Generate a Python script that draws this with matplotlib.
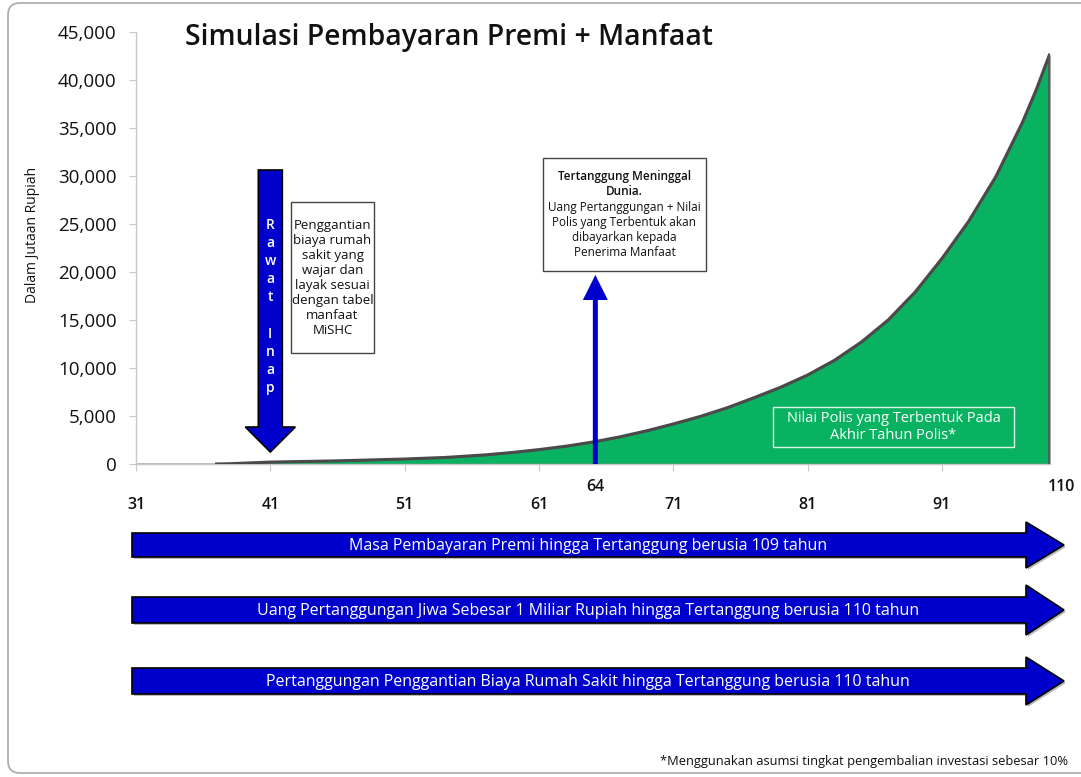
import matplotlib
matplotlib.use('Agg')
import matplotlib.pyplot as plt
from matplotlib.patches import Polygon, Rectangle, FancyBboxPatch
from matplotlib.ticker import FuncFormatter

plt.rcParams['font.family'] = ['Open Sans', 'DejaVu Sans']

# policy year index (0 = age 31) and policy value (million Rupiah)
tahun_ke = [0, 6, 7, 10, 15, 20, 23, 26, 28, 30, 32, 34, 36, 38, 40, 42, 44, 46, 48,
            50, 52, 54, 56, 58, 60, 62, 64, 66, 67, 68]
nilai_polis = [0, 0, 30, 200, 330, 520, 680, 950, 1200, 1500, 1850, 2290, 2820, 3450, 4170,
               4950, 5850, 6900, 8000, 9270, 10800, 12700, 15000, 17900, 21400, 25300,
               29900, 35600, 38900, 42600]

tick_pos = [0, 10, 20, 30, 40, 50, 60]
tick_usia = ['31', '41', '51', '61', '71', '81', '91']
y_ticks = [0, 5000, 10000, 15000, 20000, 25000, 30000, 35000, 40000, 45000]

pos_rawat_inap = 10
pos_meninggal = 34.2
pos_akhir = 68.9
label_meninggal = '64'
label_akhir = '110'

bar_texts = [
    'Masa Pembayaran Premi hingga Tertanggung berusia 109 tahun',
    'Uang Pertanggungan Jiwa Sebesar 1 Miliar Rupiah hingga Tertanggung berusia 110 tahun',
    'Pertanggungan Penggantian Biaya Rumah Sakit hingga Tertanggung berusia 110 tahun',
]

blue = '#0000CC'
green = '#08B261'
axis_gray = '#C8C8C8'

W, H = 1081, 777
fig = plt.figure(figsize=(W / 100, H / 100), dpi=100)
ax = fig.add_axes([136 / W, 1 - 464 / H, (1050 - 136) / W, (464 - 32) / H], zorder=1)

ax.fill_between(tahun_ke, nilai_polis, 0, color=green, edgecolor='#555555', lw=1, zorder=2)
ax.plot(tahun_ke[1:], nilai_polis[1:], color='#4A4A4A', lw=2.2, zorder=3,
        solid_joinstyle='round')
ax.plot([tahun_ke[-1], tahun_ke[-1]], [0, nilai_polis[-1]], color='#555555', lw=1.2, zorder=3)

ax.set_xlim(0, 68.05)
ax.set_ylim(0, 45000)
ax.set_xticks(tick_pos)
ax.set_xticklabels(tick_usia)
ax.set_yticks(y_ticks)
ax.yaxis.set_major_formatter(FuncFormatter(lambda v, p: f'{int(v):,}'))
for s in ['top', 'right']:
    ax.spines[s].set_visible(False)
for s in ['left', 'bottom']:
    ax.spines[s].set_color(axis_gray)
    ax.spines[s].set_linewidth(1)
ax.tick_params(axis='y', length=5, color=axis_gray, labelsize=13.5, pad=9, labelcolor='#111111')
ax.tick_params(axis='x', length=5, color=axis_gray, labelsize=11.5, pad=19, labelcolor='#111111')
for t in ax.get_xticklabels():
    t.set_fontweight('semibold')
ax.patch.set_alpha(0)

fig.canvas.draw()


def to_px(x, y):
    dx, dy = ax.transData.transform((x, y))
    return dx, H - dy


# overlay in pixel units (y downwards)
ov = fig.add_axes([0, 0, 1, 1], zorder=2)
ov.set_xlim(0, W)
ov.set_ylim(H, 0)
ov.axis('off')
ov.patch.set_alpha(0)

# outer rounded frame
ov.add_patch(FancyBboxPatch((8, 3), 1140, 770, boxstyle='round,pad=0,rounding_size=12',
                            fc='none', ec='#A8A8A8', lw=1.2))

# title and axis label
ov.text(185, 37, 'Simulasi Pembayaran Premi + Manfaat', fontsize=20.3, fontweight='semibold',
        ha='left', va='center', color='#111111')
ov.text(33, 235, 'Dalam Jutaan Rupiah', fontsize=10, rotation=90, ha='center', va='center',
        color='#111111')

# down arrow "Rawat Inap"
cx = to_px(pos_rawat_inap, 0)[0]
top, base, tip = 170, 427, 452
arrow_pts = [(cx - 12, top), (cx + 12, top), (cx + 12, base), (cx + 25, base), (cx, tip),
             (cx - 25, base), (cx - 12, base)]
ov.add_patch(Polygon(arrow_pts, closed=True, fc=blue, ec='black', lw=1.2))
for k, ch in enumerate('Rawat Inap'):
    ov.text(cx, 225 + k * 18.1, ch, color='white', fontsize=10, fontweight='semibold',
            ha='center', va='center')

ov.add_patch(Rectangle((291, 202), 83, 151, fc='white', ec='#444444', lw=1))
ov.text(332.5, 278, 'Penggantian\nbiaya rumah\nsakit yang\nwajar dan\nlayak sesuai\ndengan tabel\nmanfaat\nMiSHC',
        fontsize=9.5, ha='center', va='center', linespacing=1.2, color='#111111')

# up arrow (death benefit)
ux, uy0 = to_px(pos_meninggal, 0)
ov.add_patch(Polygon([(ux - 2.5, uy0), (ux - 2.5, 300), (ux - 12.5, 300), (ux, 275),
                      (ux + 12.5, 300), (ux + 2.5, 300), (ux + 2.5, uy0)],
                     closed=True, fc=blue, ec='none'))
ov.add_patch(Rectangle((543, 158), 163, 113, fc='white', ec='#444444', lw=1))
ov.text(624.5, 184, 'Tertanggung Meninggal\nDunia.', fontsize=8.5, fontweight='semibold',
        ha='center', va='center', linespacing=1.2, color='#111111')
ov.text(624.5, 230, 'Uang Pertanggungan + Nilai\nPolis yang Terbentuk akan\ndibayarkan kepada\nPenerima Manfaat',
        fontsize=8.5, ha='center', va='center', linespacing=1.2, color='#111111')

# label inside the green area
ov.add_patch(Rectangle((773, 407), 241, 40, fc='none', ec='#DDF5E6', lw=1))
ov.text(893.5, 427, 'Nilai Polis yang Terbentuk Pada\nAkhir Tahun Polis*', color='white',
        fontsize=10.5, ha='center', va='center', linespacing=1.15)

# extra age labels
ov.text(ux, 487, label_meninggal, fontsize=11.5, fontweight='semibold', ha='center', va='center',
        color='#111111')
ov.text(to_px(pos_akhir, 0)[0], 487, label_akhir, fontsize=11.5, fontweight='semibold',
        ha='center', va='center', color='#111111')

# coverage block arrows
rows = [(545, 12, 23), (610, 13, 25), (681, 13, 24)]
for (yc, hs, hh), txt in zip(rows, bar_texts):
    x0, xb, xt = 132, 1026, 1064
    pts = [(x0, yc - hs), (xb, yc - hs), (xb, yc - hh), (xt, yc), (xb, yc + hh),
           (xb, yc + hs), (x0, yc + hs)]
    ov.add_patch(Polygon([(px + 2, py + 2) for px, py in pts], closed=True, fc='#BBBBBB', ec='none'))
    ov.add_patch(Polygon(pts, closed=True, fc=blue, ec='black', lw=1.2))
    ov.text(588, yc + 1, txt, color='white', fontsize=11.5, ha='center', va='center')

ov.text(1068, 762, '*Menggunakan asumsi tingkat pengembalian investasi sebesar 10%',
        fontsize=9.3, ha='right', va='center', color='#111111')

fig.savefig('out.png', dpi=100, facecolor='white')
